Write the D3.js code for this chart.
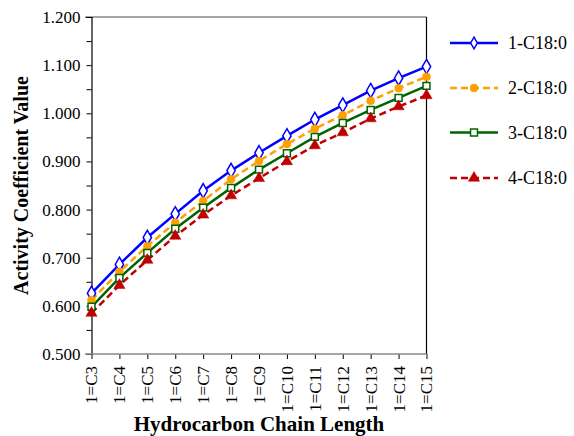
<!DOCTYPE html>
<html>
<head>
<meta charset="utf-8">
<script src="https://cdn.jsdelivr.net/npm/d3@7"></script>
<style>
  body { margin: 0; background: #fff; }
  svg { font-family: "Liberation Serif", "Times New Roman", serif; }
</style>
</head>
<body>
<svg id="chart" width="574" height="436"></svg>
<script>
// chain length categories
var categories = ["1=C3","1=C4","1=C5","1=C6","1=C7","1=C8","1=C9","1=C10","1=C11","1=C12","1=C13","1=C14","1=C15"];
var yTicks = [0.5, 0.6, 0.7, 0.8, 0.9, 1.0, 1.1, 1.2];

var s1 = [0.626, 0.686, 0.742, 0.791, 0.839, 0.881, 0.918, 0.953, 0.987, 1.017, 1.047, 1.073, 1.097];
var s2 = [0.612, 0.671, 0.724, 0.773, 0.818, 0.863, 0.901, 0.936, 0.968, 0.996, 1.026, 1.052, 1.076];
var s3 = [0.598, 0.658, 0.710, 0.760, 0.804, 0.845, 0.883, 0.917, 0.951, 0.980, 1.007, 1.032, 1.057];
var s4 = [0.585, 0.643, 0.695, 0.745, 0.789, 0.829, 0.865, 0.900, 0.933, 0.960, 0.989, 1.014, 1.037];
var seriesNames = ["1-C18:0","2-C18:0","3-C18:0","4-C18:0"];

var series = [
  {name: seriesNames[0], values: s1, color: "#0000FF", dash: null, marker: "diamond"},
  {name: seriesNames[1], values: s2, color: "#FFA000", dash: "7,4", marker: "circle"},
  {name: seriesNames[2], values: s3, color: "#006400", dash: null, marker: "square"},
  {name: seriesNames[3], values: s4, color: "#C00000", dash: "7,4", marker: "triangle"}
];

var svg = d3.select("#chart");
var plotLeft = 91.5, plotRight = 426.5, plotTop = 17, plotBottom = 354;

var x = d3.scalePoint().domain(categories).range([plotLeft, plotRight]);
var y = d3.scaleLinear().domain([0.5, 1.2]).range([plotBottom, plotTop]);

// frame lines
svg.append("line").attr("x1", 85).attr("x2", plotRight).attr("y1", plotTop).attr("y2", plotTop)
  .attr("stroke", "#888").attr("stroke-width", 1.5);
svg.append("line").attr("x1", plotRight).attr("x2", plotRight).attr("y1", plotTop).attr("y2", plotBottom)
  .attr("stroke", "#000").attr("stroke-width", 1.2);

// y axis, ticks every 0.05, labels every 0.1
var yAxis = d3.axisLeft(y)
  .tickValues(d3.range(0.5, 1.2001, 0.05))
  .tickSize(5)
  .tickFormat(function(d){
    var hit = yTicks.filter(function(t){ return Math.abs(t - d) < 1e-6; });
    return hit.length ? d3.format(".3f")(d) : "";
  });
var gy = svg.append("g").attr("transform", "translate(" + plotLeft + ",0)").call(yAxis);
gy.select(".domain").attr("stroke", "#000").attr("stroke-width", 1.2);
gy.selectAll(".tick line").attr("stroke", "#000");
gy.selectAll(".tick text").attr("font-size", 17).attr("font-family", "Liberation Serif").attr("fill", "#000").attr("x", -11);

// x axis
var xAxis = d3.axisBottom(x).tickSize(5).tickFormat("");
var gx = svg.append("g").attr("transform", "translate(0," + plotBottom + ")").call(xAxis);
gx.select(".domain").remove();
gx.selectAll(".tick line").attr("stroke", "#000");
svg.append("line").attr("x1", 85).attr("x2", plotRight).attr("y1", plotBottom).attr("y2", plotBottom)
  .attr("stroke", "#888").attr("stroke-width", 1.5);

svg.append("g").selectAll("text").data(categories).enter().append("text")
  .attr("transform", function(d){ return "translate(" + x(d) + "," + (plotBottom + 12) + ") rotate(-90)"; })
  .attr("dy", "0.35em")
  .attr("text-anchor", "end")
  .attr("font-size", 17)
  .text(function(d){ return d; });

// axis titles
svg.append("text")
  .attr("transform", "translate(28," + ((plotTop + plotBottom) / 2) + ") rotate(-90)")
  .attr("text-anchor", "middle")
  .attr("font-weight", "bold")
  .attr("font-size", 20)
  .text("Activity Coefficient Value");
svg.append("text")
  .attr("x", (plotLeft + plotRight) / 2).attr("y", 431)
  .attr("text-anchor", "middle")
  .attr("font-weight", "bold")
  .attr("font-size", 21)
  .text("Hydrocarbon Chain Length");

// markers
var symbolType = {diamond: d3.symbolDiamond, circle: d3.symbolCircle, square: d3.symbolSquare, triangle: d3.symbolTriangle};
var symbolSize = {diamond: 60, circle: 50, square: 48, triangle: 55};
function drawMarker(g, s, cx, cy, scale) {
  var p = d3.symbol().type(symbolType[s.marker]).size(symbolSize[s.marker] * (scale || 1))();
  var hollow = (s.marker == "diamond" || s.marker == "square");
  g.append("path")
    .attr("d", p)
    .attr("transform", "translate(" + cx + "," + cy + ")")
    .attr("fill", hollow ? "#fff" : s.color)
    .attr("stroke", s.color)
    .attr("stroke-width", hollow ? 1.5 : 0.5);
}

var line = d3.line().x(function(d, i){ return x(categories[i]); }).y(function(d){ return y(d); });

series.forEach(function(s){
  svg.append("path")
    .datum(s.values)
    .attr("d", line)
    .attr("fill", "none")
    .attr("stroke", s.color)
    .attr("stroke-width", 2.5)
    .attr("stroke-dasharray", s.dash);
});
series.forEach(function(s){
  var g = svg.append("g");
  s.values.forEach(function(v, i){ drawMarker(g, s, x(categories[i]), y(v)); });
});

// legend
var legendY = [43, 88, 132.5, 178];
series.forEach(function(s, i){
  var g = svg.append("g");
  g.append("line").attr("x1", 450).attr("x2", 498).attr("y1", legendY[i]).attr("y2", legendY[i])
    .attr("stroke", s.color).attr("stroke-width", 2.5).attr("stroke-dasharray", s.dash);
  drawMarker(g, s, 474, legendY[i], s.marker == "diamond" ? 0.65 : 1.0);
  g.append("text").attr("x", 508).attr("y", legendY[i]).attr("dy", "0.35em")
    .attr("font-size", 18).text(s.name);
});
</script>
</body>
</html>
